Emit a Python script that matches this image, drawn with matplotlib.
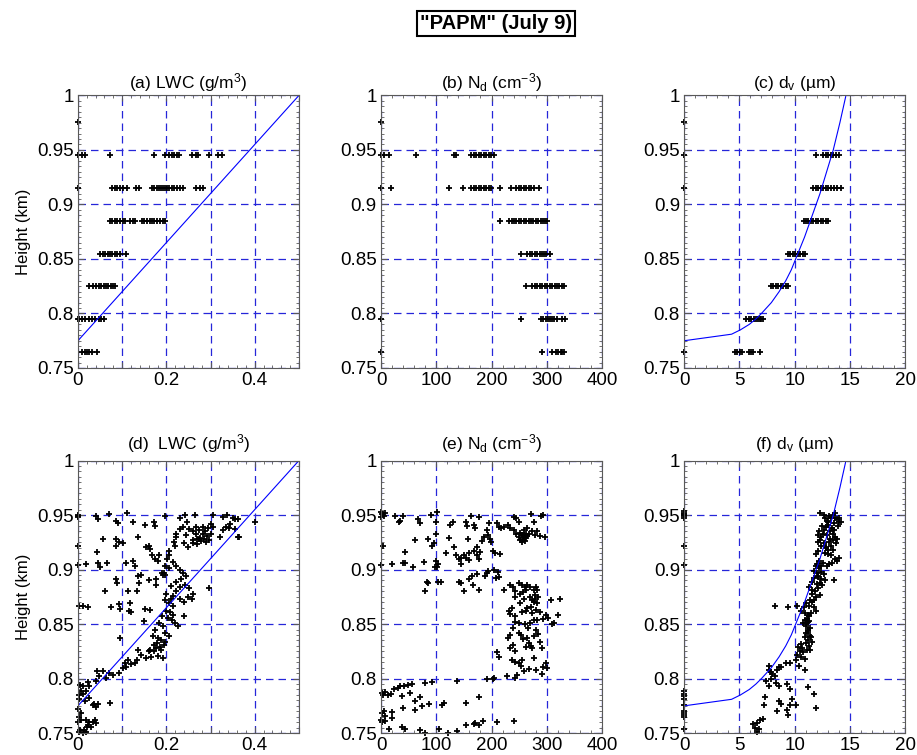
import numpy as np
import matplotlib
matplotlib.use("Agg")
import matplotlib.pyplot as plt
from matplotlib.ticker import MultipleLocator

plt.rcParams['font.family'] = ['Liberation Sans', 'DejaVu Sans']
plt.rcParams['mathtext.fontset'] = 'custom'
plt.rcParams['mathtext.rm'] = 'Liberation Sans'
plt.rcParams['mathtext.it'] = 'Liberation Sans:italic'

# ------------------------------------------------------------
# dados: linhas superiores (níveis discretos de altura)
# ------------------------------------------------------------
levels = [0.765, 0.795, 0.825, 0.855, 0.885, 0.915, 0.945, 0.976]

lwc_rows = [
    [0.009, 0.015, 0.020, 0.026, 0.032, 0.043],
    [0.0, 0.002, 0.009, 0.017, 0.024, 0.032, 0.039, 0.047, 0.052, 0.058],
    [0.026, 0.035, 0.041, 0.047, 0.052, 0.058, 0.064, 0.069, 0.075, 0.080, 0.084],
    [0.050, 0.056, 0.062, 0.067, 0.073, 0.078, 0.084, 0.089, 0.095, 0.108],
    [0.073, 0.078, 0.084, 0.089, 0.095, 0.102, 0.107, 0.118, 0.124, 0.129, 0.144,
     0.150, 0.156, 0.162, 0.167, 0.173, 0.178, 0.186, 0.192, 0.197],
    [0.0, 0.077, 0.084, 0.089, 0.095, 0.101, 0.110, 0.132, 0.139, 0.167, 0.172, 0.178,
     0.184, 0.189, 0.193, 0.197, 0.201, 0.207, 0.212, 0.217, 0.223, 0.230, 0.237,
     0.268, 0.276, 0.284],
    [0.0, 0.009, 0.015, 0.073, 0.172, 0.197, 0.207, 0.212, 0.218, 0.223, 0.229, 0.259,
     0.266, 0.272, 0.296, 0.317, 0.325],
    [0.0],
]

nd_rows = [
    [0, 292, 309, 316, 321, 325, 328, 331],
    [0, 254, 289, 293, 298, 302, 306, 310, 314, 318, 328, 333],
    [262, 274, 278, 283, 287, 292, 297, 301, 305, 310, 315, 319, 323, 328, 332],
    [254, 265, 269, 274, 278, 283, 287, 291, 295, 299, 305],
    [216, 232, 237, 241, 245, 250, 254, 259, 263, 267, 271, 275, 280, 284, 289, 293, 297, 301],
    [0, 18, 123, 148, 163, 168, 172, 177, 181, 186, 190, 195, 199, 216, 235, 245, 250,
     254, 259, 263, 268, 272, 277, 286],
    [0, 5, 14, 63, 132, 135, 163, 168, 172, 177, 181, 186, 190, 195, 199, 204],
    [0],
]

dv_rows = [
    [0, 4.58, 4.79, 5.03, 5.27, 5.87, 6.08, 6.23, 6.89],
    [5.63, 5.87, 6.08, 6.29, 6.53, 6.68, 6.83, 6.98, 7.13],
    [7.87, 8.08, 8.32, 8.53, 8.77, 8.98, 9.22, 9.43],
    [9.37, 9.58, 9.82, 10.03, 10.27, 10.48, 10.72, 10.93],
    [10.81, 11.02, 11.23, 11.47, 11.68, 11.92, 12.13, 12.37, 12.57, 12.81, 13.05],
    [0, 11.71, 11.92, 12.13, 12.37, 12.57, 12.81, 13.02, 13.26, 13.56, 13.86, 14.16],
    [0, 11.98, 12.57, 12.81, 13.05, 13.26, 13.50, 13.71, 14.01],
    [0],
]

# ------------------------------------------------------------
# dados: linhas inferiores (x, altura)
# ------------------------------------------------------------
lwc_pts = [
    (0, 0.950), (0, 0.949), (0, 0.948), (0, 0.922), (0, 0.904),
    (0.041, 0.949), (0.045, 0.946), (0.071, 0.951), (0.086, 0.945), (0.090, 0.943),
    (0.110, 0.952), (0.125, 0.944), (0.151, 0.941), (0.172, 0.944), (0.175, 0.940),
    (0.198, 0.949), (0.056, 0.928), (0.087, 0.928), (0.092, 0.925), (0.086, 0.922),
    (0.101, 0.924), (0.136, 0.930), (0.042, 0.916), (0.045, 0.906), (0.018, 0.905),
    (0.051, 0.902), (0.066, 0.906), (0.109, 0.906), (0.125, 0.908), (0.130, 0.903),
    (0.153, 0.921), (0.160, 0.922), (0.163, 0.919), (0.168, 0.913), (0.174, 0.910),
    (0.180, 0.908), (0.184, 0.913), (0.085, 0.891), (0.089, 0.888), (0.062, 0.880),
    (0.113, 0.880), (0.133, 0.880), (0.136, 0.894), (0.143, 0.895), (0.139, 0.888),
    (0.160, 0.890), (0.177, 0.891), (0.177, 0.886), (0.190, 0.897), (0.192, 0.895),
    (0.003, 0.867), (0.011, 0.867), (0.023, 0.866), (0.074, 0.866), (0.094, 0.868),
    (0.095, 0.864), (0.118, 0.869), (0.116, 0.862), (0.121, 0.861), (0.151, 0.864),
    (0.164, 0.863), (0.149, 0.853), (0.095, 0.837),
    (0.222, 0.933), (0.230, 0.937), (0.237, 0.939), (0.245, 0.932), (0.252, 0.937),
    (0.260, 0.935), (0.267, 0.939), (0.275, 0.936), (0.282, 0.939), (0.288, 0.935),
    (0.294, 0.938), (0.300, 0.933), (0.261, 0.927), (0.269, 0.928), (0.276, 0.929),
    (0.284, 0.933), (0.291, 0.931), (0.300, 0.942), (0.305, 0.939), (0.222, 0.930),
    (0.219, 0.922), (0.239, 0.924), (0.249, 0.921), (0.260, 0.924), (0.269, 0.923),
    (0.273, 0.928), (0.322, 0.930), (0.328, 0.936), (0.334, 0.939), (0.328, 0.948),
    (0.337, 0.950), (0.344, 0.942), (0.350, 0.947), (0.355, 0.946), (0.362, 0.930),
    (0.361, 0.946), (0.341, 0.938), (0.355, 0.937), (0.364, 0.930), (0.400, 0.944),
    (0.305, 0.950), (0.264, 0.950), (0.231, 0.947), (0.242, 0.950), (0.246, 0.944),
    (0.217, 0.925), (0.205, 0.917), (0.207, 0.913), (0.201, 0.910), (0.196, 0.903),
    (0.207, 0.901), (0.195, 0.897), (0.198, 0.895), (0.214, 0.907), (0.222, 0.903),
    (0.230, 0.900), (0.237, 0.897), (0.245, 0.894), (0.234, 0.891), (0.222, 0.889),
    (0.211, 0.885), (0.231, 0.884), (0.243, 0.886), (0.252, 0.883), (0.261, 0.878),
    (0.258, 0.873), (0.222, 0.880), (0.214, 0.876), (0.199, 0.878), (0.198, 0.872),
    (0.207, 0.869), (0.211, 0.873), (0.230, 0.873), (0.239, 0.870), (0.249, 0.875),
    (0.297, 0.883), (0.214, 0.867), (0.199, 0.862), (0.208, 0.861), (0.204, 0.856),
    (0.214, 0.858), (0.219, 0.851), (0.227, 0.848), (0.239, 0.857), (0.190, 0.857),
    (0.183, 0.851), (0.193, 0.848), (0.175, 0.845), (0.169, 0.839), (0.180, 0.837),
    (0.189, 0.835), (0.198, 0.842), (0.178, 0.833), (0.171, 0.831), (0.163, 0.826),
    (0.172, 0.825), (0.180, 0.821), (0.189, 0.826), (0.195, 0.831), (0.198, 0.834),
    (0.207, 0.839), (0.193, 0.819), (0.160, 0.825), (0.154, 0.819), (0.143, 0.822),
    (0.136, 0.826), (0.128, 0.814), (0.121, 0.813), (0.134, 0.817), (0.113, 0.817),
    (0.107, 0.814), (0.101, 0.810), (0.109, 0.811), (0.094, 0.805), (0.071, 0.805),
    (0.079, 0.803), (0.063, 0.801), (0.056, 0.807), (0.048, 0.802), (0.041, 0.798),
    (0.044, 0.807), (0.072, 0.778), (0.023, 0.797), (0.026, 0.793), (0.018, 0.789),
    (0.011, 0.793), (0.005, 0.794), (0.008, 0.789), (0.012, 0.786), (0.002, 0.785),
    (0.003, 0.781), (0.017, 0.779), (0.026, 0.782), (0.036, 0.777), (0.041, 0.774),
    (0.045, 0.777), (0.033, 0.776), (0.0, 0.772), (0.006, 0.768), (0.003, 0.765),
    (0.008, 0.762), (0.0, 0.760), (0.018, 0.762), (0.026, 0.760), (0.033, 0.760),
    (0.038, 0.762), (0.041, 0.759), (0.029, 0.756), (0.020, 0.756), (0.023, 0.757),
    (0.014, 0.753), (0.005, 0.753), (0.002, 0.751), (0.011, 0.750), (0.018, 0.751),
    (0.285, 0.928), (0.290, 0.925), (0.278, 0.926), (0.268, 0.933), (0.296, 0.927),
    (0.213, 0.854), (0.186, 0.829), (0.176, 0.828), (0.166, 0.820),
]

nd_pts = [
    (0, 0.953), (1, 0.951), (5, 0.949), (0, 0.948), (7, 0.952), (4, 0.922), (0, 0.904),
    (25, 0.949), (40, 0.949), (34, 0.945), (32, 0.944), (67, 0.946), (70, 0.943),
    (90, 0.950), (101, 0.953), (100, 0.944), (124, 0.941), (130, 0.944), (154, 0.944),
    (156, 0.940), (163, 0.949), (169, 0.941), (171, 0.938), (177, 0.948), (100, 0.933),
    (123, 0.929), (95, 0.924), (92, 0.922), (85, 0.928), (61, 0.927), (43, 0.916),
    (40, 0.906), (44, 0.906), (20, 0.905), (58, 0.902), (77, 0.907), (100, 0.908),
    (103, 0.905), (101, 0.902), (97, 0.902), (118, 0.915), (132, 0.921), (136, 0.913),
    (141, 0.910), (144, 0.911), (144, 0.905), (151, 0.913), (154, 0.911), (159, 0.915),
    (157, 0.928), (159, 0.909), (168, 0.917), (174, 0.921), (174, 0.913), (177, 0.910),
    (179, 0.916), (183, 0.926), (187, 0.930), (193, 0.932), (192, 0.936), (198, 0.928),
    (199, 0.925), (202, 0.917), (207, 0.915), (215, 0.914), (195, 0.943), (210, 0.943),
    (213, 0.939), (217, 0.938), (222, 0.939), (229, 0.941), (234, 0.938), (240, 0.948),
    (245, 0.947), (249, 0.944), (240, 0.936), (245, 0.933), (249, 0.930), (252, 0.934),
    (256, 0.932), (258, 0.932), (261, 0.930), (263, 0.933), (259, 0.936), (265, 0.938),
    (274, 0.935), (279, 0.932), (283, 0.935), (287, 0.931), (271, 0.951), (276, 0.944),
    (289, 0.949), (297, 0.930), (294, 0.950), (205, 0.900), (211, 0.898), (213, 0.893),
    (208, 0.892), (191, 0.897), (189, 0.894), (193, 0.899), (174, 0.896), (165, 0.894),
    (160, 0.891), (142, 0.889), (144, 0.888), (151, 0.880), (167, 0.886), (177, 0.881),
    (84, 0.889), (85, 0.888), (80, 0.880), (103, 0.889), (108, 0.889), (223, 0.881),
    (233, 0.886), (239, 0.884), (243, 0.880), (249, 0.888), (255, 0.886), (261, 0.884),
    (265, 0.886), (270, 0.884), (276, 0.881), (280, 0.884), (283, 0.881), (243, 0.875),
    (251, 0.878), (257, 0.879), (263, 0.881), (269, 0.875), (273, 0.872), (276, 0.870),
    (279, 0.873), (282, 0.869), (285, 0.875), (258, 0.873), (252, 0.869), (237, 0.865),
    (231, 0.862), (234, 0.859), (243, 0.857), (256, 0.861), (262, 0.862), (265, 0.865),
    (273, 0.860), (281, 0.863), (288, 0.861), (294, 0.855), (298, 0.858), (308, 0.872),
    (324, 0.873), (303, 0.856), (309, 0.850), (314, 0.851), (321, 0.858), (276, 0.854),
    (270, 0.851), (283, 0.854), (261, 0.850), (249, 0.851), (243, 0.852), (239, 0.846),
    (234, 0.840), (229, 0.837), (249, 0.842), (253, 0.840), (257, 0.836), (264, 0.837),
    (267, 0.833), (271, 0.830), (274, 0.828), (277, 0.839), (280, 0.845), (285, 0.841),
    (288, 0.834), (291, 0.828), (239, 0.831), (234, 0.828), (243, 0.825), (210, 0.824),
    (213, 0.820), (237, 0.817), (243, 0.815), (249, 0.814), (256, 0.817), (253, 0.812),
    (267, 0.809), (276, 0.819), (281, 0.808), (291, 0.804), (294, 0.811), (298, 0.814),
    (300, 0.810), (258, 0.807), (247, 0.803), (228, 0.802), (243, 0.801), (203, 0.800),
    (205, 0.801), (191, 0.800), (177, 0.783), (185, 0.761), (171, 0.759), (177, 0.757),
    (210, 0.760), (241, 0.761), (138, 0.798), (154, 0.778), (111, 0.776), (114, 0.778),
    (86, 0.777), (71, 0.783), (62, 0.779), (74, 0.775), (92, 0.797), (80, 0.796),
    (56, 0.795), (49, 0.794), (42, 0.793), (35, 0.793), (30, 0.791), (24, 0.790),
    (18, 0.786), (13, 0.785), (7, 0.788), (1, 0.787), (4, 0.785), (38, 0.784),
    (40, 0.773), (53, 0.787), (61, 0.771), (20, 0.769), (5, 0.770), (1, 0.768),
    (8, 0.766), (0, 0.762), (19, 0.764), (7, 0.761), (2, 0.760), (14, 0.754),
    (38, 0.756), (44, 0.754), (71, 0.753), (80, 0.750), (105, 0.754), (121, 0.750),
    (137, 0.752), (153, 0.757), (169, 0.758),
    (257, 0.928), (260, 0.926), (262, 0.929), (255, 0.925), (264, 0.931), (251, 0.927),
    (268, 0.933), (278, 0.877), (272, 0.866), (266, 0.846), (262, 0.829),
]

dv_pts = [
    (0, 0.954), (0, 0.952), (0, 0.951), (0, 0.950), (0, 0.949), (0, 0.947), (0, 0.922),
    (0, 0.904), (0, 0.789), (0, 0.786), (0, 0.784), (0, 0.781), (0, 0.776), (0, 0.770),
    (0, 0.768), (0, 0.767), (0, 0.765), (0, 0.754),
    (12.26, 0.952), (12.62, 0.950), (12.74, 0.947), (12.98, 0.944), (13.16, 0.949),
    (13.34, 0.947), (13.46, 0.950), (13.63, 0.947), (13.87, 0.946), (13.99, 0.944),
    (13.57, 0.943), (13.04, 0.941), (12.86, 0.939), (12.68, 0.936), (12.20, 0.935),
    (12.08, 0.932), (12.38, 0.930), (12.56, 0.933), (12.92, 0.932), (13.22, 0.935),
    (13.46, 0.933), (13.63, 0.930), (13.87, 0.928), (13.75, 0.924), (13.46, 0.927),
    (13.10, 0.925), (12.86, 0.921), (12.62, 0.924), (12.38, 0.922), (11.90, 0.914),
    (12.14, 0.917), (12.74, 0.915), (12.98, 0.914), (13.34, 0.913), (13.63, 0.910),
    (13.87, 0.908), (14.05, 0.911), (13.40, 0.906), (13.16, 0.905), (12.92, 0.903),
    (12.38, 0.903), (12.20, 0.901), (11.96, 0.903), (11.72, 0.899), (12.02, 0.897),
    (12.14, 0.894), (12.38, 0.891), (12.62, 0.896), (12.74, 0.890), (12.26, 0.888),
    (11.78, 0.892), (11.54, 0.889), (11.30, 0.884), (11.54, 0.881), (11.84, 0.880),
    (12.08, 0.883), (12.26, 0.877), (11.96, 0.875), (11.72, 0.872), (11.42, 0.872),
    (11.06, 0.869), (11.30, 0.867), (10.88, 0.866), (10.58, 0.862), (10.94, 0.860),
    (11.30, 0.857), (11.18, 0.852), (10.94, 0.854), (10.76, 0.851), (11.06, 0.848),
    (11.24, 0.845), (11.00, 0.842), (11.36, 0.839), (11.18, 0.835), (11.54, 0.834),
    (11.06, 0.833), (10.70, 0.828), (10.35, 0.829), (10.47, 0.825), (10.23, 0.822),
    (10.58, 0.820), (10.94, 0.818), (10.11, 0.817), (9.63, 0.814), (9.21, 0.814),
    (8.79, 0.811), (8.61, 0.811), (7.65, 0.808), (7.89, 0.806), (8.19, 0.802),
    (7.89, 0.800), (8.31, 0.796), (7.65, 0.793), (7.42, 0.798), (8.61, 0.793),
    (9.27, 0.795), (9.57, 0.790), (11.18, 0.792), (11.72, 0.786), (11.96, 0.773),
    (10.11, 0.776), (9.81, 0.781), (9.57, 0.776), (9.27, 0.771), (9.39, 0.767),
    (8.79, 0.777), (8.55, 0.779), (7.30, 0.783), (7.24, 0.776), (8.37, 0.770),
    (7.12, 0.763), (6.88, 0.762), (6.58, 0.759), (6.28, 0.758), (6.46, 0.755),
    (6.76, 0.754), (6.58, 0.751), (13.57, 0.890), (8.25, 0.867), (9.39, 0.866),
    (10.23, 0.867),
    (11.10, 0.855), (11.20, 0.858), (11.00, 0.850), (11.30, 0.853), (11.40, 0.846),
    (11.20, 0.843), (11.50, 0.838), (11.30, 0.830), (11.10, 0.826), (10.80, 0.824),
    (10.60, 0.832), (12.00, 0.905), (12.20, 0.908), (12.40, 0.898), (12.10, 0.893),
    (12.50, 0.886), (12.80, 0.920), (13.00, 0.918), (13.20, 0.928), (13.40, 0.938),
    (13.60, 0.936), (13.90, 0.940), (14.00, 0.947), (12.90, 0.945), (12.50, 0.940),
    (12.30, 0.927), (12.10, 0.925), (13.50, 0.918), (14.20, 0.944), (13.70, 0.952),
    (11.60, 0.870), (11.80, 0.866), (11.90, 0.862), (11.50, 0.860), (10.90, 0.838),
    (10.40, 0.812), (10.90, 0.808), (11.40, 0.826), (8.00, 0.804), (8.40, 0.808),
    (7.70, 0.812), (12.60, 0.906), (12.00, 0.887), (11.60, 0.878), (13.30, 0.922),
]

# curvas de referência
lwc_fit_x = [0.0, 0.5]
lwc_fit_y = [0.775, 1.0]
dv_fit_x = [0.0, 4.3, 5.1, 5.9, 6.5, 7.0, 7.9, 8.6, 9.2, 9.7, 10.1,
            10.9, 11.6, 12.3, 12.9, 13.5, 14.1, 14.65]
dv_fit_y = [0.775, 0.781, 0.785, 0.790, 0.795, 0.800, 0.810, 0.820, 0.830, 0.840, 0.850,
            0.870, 0.890, 0.910, 0.930, 0.950, 0.975, 1.0]

titles_top = [r'(a) LWC (g/m$^3$)', r'(b) N$_\mathrm{d}$ (cm$^{-3}$)', r'(c) d$_\mathrm{v}$ (µm)']
titles_bot = [r'(d)  LWC (g/m$^3$)', r'(e) N$_\mathrm{d}$ (cm$^{-3}$)', r'(f) d$_\mathrm{v}$ (µm)']

# ------------------------------------------------------------
# figura
# ------------------------------------------------------------
fig = plt.figure(figsize=(9.17, 7.55), dpi=100)

lefts = [0.085, 0.4155, 0.746]
bottoms = [0.5126, 0.029]
w, h = 0.241, 0.361

grid_kw = dict(color=(0.15, 0.15, 0.85), linestyle=(0, (6, 4)), linewidth=0.9)
mk_kw = dict(marker='+', linestyle='none', color='black', ms=4.5, mew=1.3, clip_on=False)

xset = [
    dict(lim=(0, 0.5), ticks=[0, 0.1, 0.2, 0.3, 0.4, 0.5],
         labels=['0', '', '0.2', '', '0.4', ''], minor=0.02),
    dict(lim=(0, 400), ticks=[0, 100, 200, 300, 400],
         labels=['0', '100', '200', '300', '400'], minor=20),
    dict(lim=(0, 20), ticks=[0, 5, 10, 15, 20],
         labels=['0', '5', '10', '15', '20'], minor=1),
]
yticks = [0.75, 0.8, 0.85, 0.9, 0.95, 1.0]
ylabels = ['0.75', '0.8', '0.85', '0.9', '0.95', '1']

top_rows = [lwc_rows, nd_rows, dv_rows]
bot_pts = [lwc_pts, nd_pts, dv_pts]

for r in range(2):
    for c in range(3):
        ax = fig.add_axes([lefts[c], bottoms[r], w, h])
        xs = xset[c]
        ax.set_xlim(*xs['lim'])
        ax.set_ylim(0.75, 1.0)
        ax.set_xticks(xs['ticks'])
        ax.set_xticklabels(xs['labels'])
        ax.set_yticks(yticks)
        ax.set_yticklabels(ylabels)
        ax.xaxis.set_minor_locator(MultipleLocator(xs['minor']))
        ax.yaxis.set_minor_locator(MultipleLocator(0.005))
        ax.tick_params(which='both', direction='in', top=True, right=True,
                       labelsize=13.5, color='0.35', pad=3)
        ax.tick_params(which='major', length=4)
        ax.tick_params(which='minor', length=2)
        for sp in ax.spines.values():
            sp.set_color('0.35')
        ax.grid(True, which='major', **grid_kw)
        ax.set_axisbelow(True)

        if r == 0:
            for lev, row in zip(levels, top_rows[c]):
                ax.plot(row, [lev] * len(row), **mk_kw)
            ax.set_title(titles_top[c], fontsize=12.5, pad=5)
        else:
            pts = np.array(bot_pts[c])
            ax.plot(pts[:, 0], pts[:, 1], **mk_kw)
            ax.set_title(titles_bot[c], fontsize=12.5, pad=8)

        if c == 0:
            ax.plot(lwc_fit_x, lwc_fit_y, color='blue', lw=0.8)
            ax.set_ylabel('Height (km)', fontsize=12, labelpad=4)
        elif c == 2:
            ax.plot(dv_fit_x, dv_fit_y, color='blue', lw=0.8)

fig.text(0.541, 0.969, '"PAPM" (July 9)', ha='center', va='center', fontsize=14.5,
         fontweight='bold',
         bbox=dict(boxstyle='square,pad=0.15', fc='white', ec='black', lw=1.5))

fig.savefig('out.png', dpi=100)
